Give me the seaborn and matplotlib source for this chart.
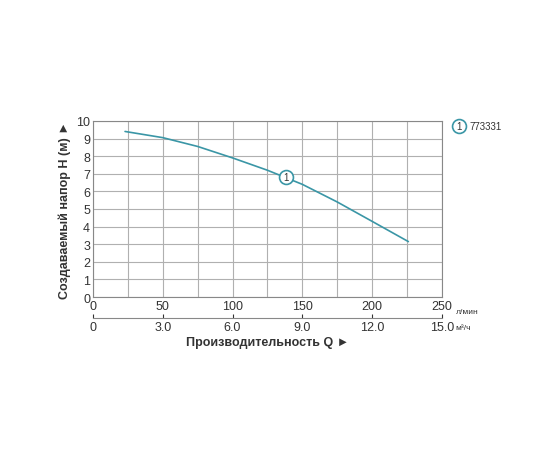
import matplotlib
matplotlib.use("Agg")
import matplotlib.pyplot as plt
import numpy as np
import pandas as pd
import seaborn as sns

# pump curve (l/min, m)
flow_lpm = [23, 50, 75, 100, 125, 150, 175, 200, 226]
head_m = [9.4, 9.05, 8.55, 7.9, 7.2, 6.4, 5.4, 4.3, 3.15]
label_point = (138, 6.8)
model = "773331"
x_ticks = [0, 50, 100, 150, 200, 250]
m3h_ticks = [0, 3, 6, 9, 12, 15]
m3h_labels = ["0", "3.0", "6.0", "9.0", "12.0", "15.0"]

sns.set_style("white")
plt.rcParams["font.family"] = ["Liberation Sans", "DejaVu Sans"]
plt.rcParams["font.size"] = 9

curve = pd.DataFrame({"Q": flow_lpm, "H": head_m})
color = "#3a96a6"

fig = plt.figure(figsize=(5.6, 4.6), dpi=100)
ax = fig.add_axes([0.166, 0.352, 0.623, 0.383])
sns.lineplot(data=curve, x="Q", y="H", ax=ax, color=color, lw=1.2)
ax.set_xlim(0, 250)
ax.set_ylim(0, 10)
ax.set_xticks(np.arange(0, 251, 25), minor=False)
ax.set_xticklabels([str(v) if v in x_ticks else "" for v in range(0, 251, 25)])
ax.set_yticks(range(0, 11))
ax.grid(True, color="#b0b0b0", lw=0.8)
for s in ax.spines.values():
    s.set_color("#888888")
    s.set_linewidth(0.8)
ax.tick_params(length=0, labelsize=9, colors="#333333", pad=2)
ax.set_xlabel("")
ax.set_ylabel("Создаваемый напор H (м) ►", fontsize=9, fontweight="bold", color="#333333")

ax.plot(*label_point, "o", ms=10, mfc="white", mec=color, mew=1.2)
ax.text(*label_point, "1", ha="center", va="center", fontsize=7, color="#333333")

ax.text(1.04, 0.5 / 250 * 0 + -0.06, "л/мин", transform=ax.transAxes, fontsize=6, va="top", color="#333333")

sec = ax.secondary_xaxis(-0.12, functions=(lambda q: q * 0.06, lambda m: m / 0.06))
sec.set_xticks(m3h_ticks)
sec.set_xticklabels(m3h_labels)
sec.spines["bottom"].set_color("#888888")
sec.tick_params(length=3, direction="in", colors="#333333", labelsize=9, pad=2)
sec.set_xlabel("Производительность Q ►", fontsize=9, fontweight="bold", color="#333333", labelpad=2)
ax.text(1.04, -0.175, "м³/ч", transform=ax.transAxes, fontsize=6, va="center", color="#333333")

# legend
ax.plot([1.05], [0.97], "o", transform=ax.transAxes, ms=10, mfc="white", mec=color, mew=1.2, clip_on=False)
ax.text(1.05, 0.97, "1", transform=ax.transAxes, ha="center", va="center", fontsize=7, color="#333333")
ax.text(1.08, 0.97, model, transform=ax.transAxes, va="center", fontsize=7, color="#333333")

fig.savefig("out.png", dpi=100)
